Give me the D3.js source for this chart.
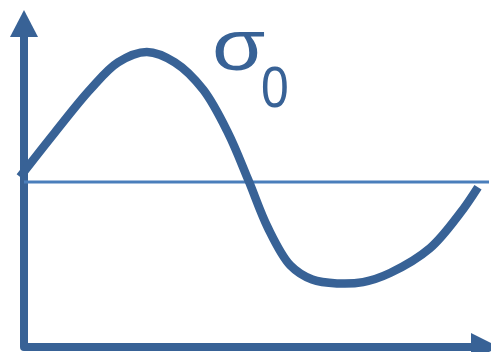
<!DOCTYPE html>
<html>
<head>
<meta charset="utf-8">
<script src="https://cdn.jsdelivr.net/npm/d3@7"></script>
<style>
  html, body { margin: 0; padding: 0; background: #fff; }
  svg { display: block; }
</style>
</head>
<body>
<script>
// Stress signal over one cycle: normalised time and normalised stress
const time = [0, 7.6, 15.3, 21.4, 27.7, 33.8, 40.0, 45.4, 49.8, 54.1, 59.0, 63.8, 69.2, 74.9,
              80.8, 89.5, 96.1, 100];
const stress = [0.04, 0.38, 0.71, 0.92, 1.0, 0.92, 0.71, 0.38, 0.02, -0.35, -0.64, -0.75, -0.78,
                -0.77, -0.70, -0.51, -0.24, -0.04];
const label = "σ";
const labelSub = "0";

const W = 491, H = 352;
const dark = "#386296";
const light = "#4a7ebb";

const svg = d3.select("body").append("svg")
  .attr("width", W).attr("height", H);

const x = d3.scaleLinear().domain([0, 100]).range([20, 478]);
const y = d3.scaleLinear().domain([-1, 1]).range([312, 52]);

// Axes: vertical and horizontal arrows joined at the origin
const axisX0 = 24, axisY0 = 347;
svg.append("path")
  .attr("d", d3.line()([[axisX0, 36], [axisX0, axisY0], [472, axisY0]]))
  .attr("fill", "none")
  .attr("stroke", dark)
  .attr("stroke-width", 8)
  .attr("stroke-linejoin", "round");

// Arrow heads
svg.append("path")
  .attr("d", d3.line()([[axisX0, 10], [axisX0 - 14, 37], [axisX0 + 14, 37]]) + "Z")
  .attr("fill", dark);
svg.append("path")
  .attr("d", d3.line()([[499, axisY0], [471, axisY0 - 14], [471, axisY0 + 14]]) + "Z")
  .attr("fill", dark);

// Zero line
svg.append("line")
  .attr("x1", axisX0).attr("x2", 489)
  .attr("y1", y(0)).attr("y2", y(0))
  .attr("stroke", light)
  .attr("stroke-width", 3);

// Signal curve
const pts = time.map((t, i) => [x(t), y(stress[i])]);
svg.append("path")
  .attr("d", d3.line().curve(d3.curveCatmullRom.alpha(0.5))(pts))
  .attr("fill", "none")
  .attr("stroke", dark)
  .attr("stroke-width", 8.5)
  .attr("stroke-linecap", "butt");

// Label: sigma with subscript zero
svg.append("text")
  .attr("fill", dark)
  .attr("font-family", "Liberation Sans, Arial, sans-serif")
  .attr("font-size", 72)
  .attr("transform", "translate(212,70) scale(1.2,1)")
  .text(label);
svg.append("text")
  .attr("fill", dark)
  .attr("font-family", "Liberation Sans, Arial, sans-serif")
  .attr("font-size", 58)
  .attr("transform", "translate(261,107) scale(0.86,1)")
  .text(labelSub);
</script>
</body>
</html>
